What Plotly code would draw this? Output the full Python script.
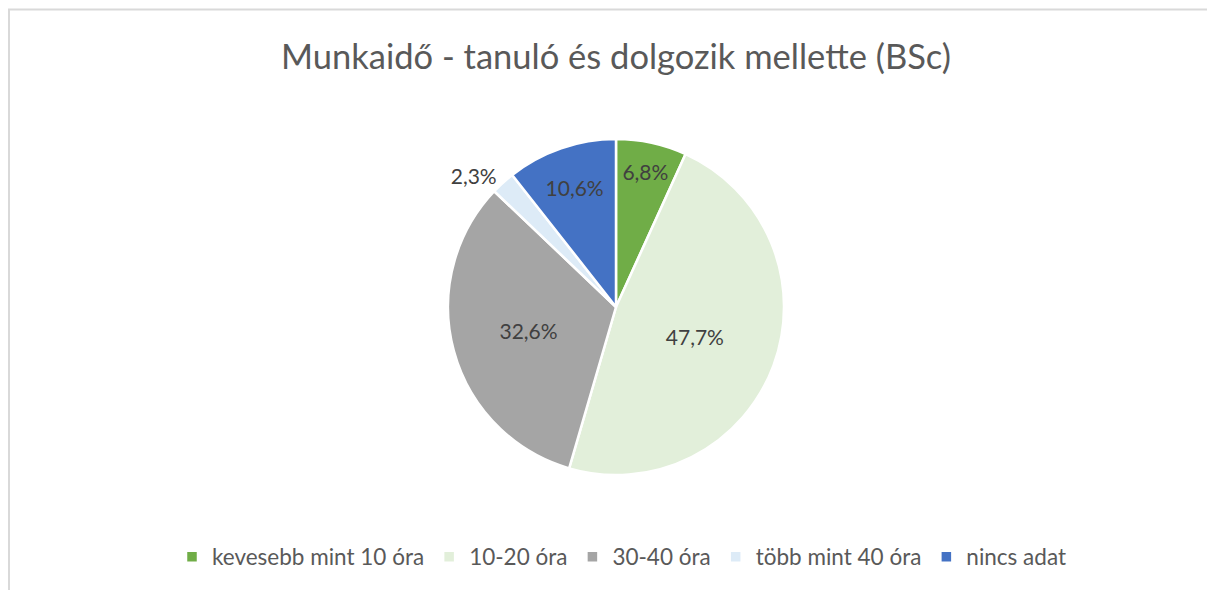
import plotly.graph_objects as go

categories = ["kevesebb mint 10 óra", "10-20 óra", "30-40 óra", "több mint 40 óra", "nincs adat"]
values = [6.8, 47.7, 32.6, 2.3, 10.6]
colors = ["#70AD47", "#E2EFDA", "#A5A5A5", "#DDEBF7", "#4472C4"]
labels_txt = [f"{v:.1f}".replace(".", ",") + "%" for v in values]

W, H = 1215, 590
OFF = 8  # page body margin
cx, cy, r = 616 - OFF, 307 - OFF, 168
FONT = "Lato, Liberation Sans, sans-serif"

fig = go.Figure(go.Pie(
    labels=categories,
    values=values,
    text=labels_txt,
    texttemplate="%{text}",
    textposition=["inside", "inside", "inside", "outside", "inside"],
    insidetextorientation="horizontal",
    sort=False,
    direction="clockwise",
    rotation=0,
    marker=dict(colors=colors, line=dict(color="#FFFFFF", width=2.5)),
    textfont=dict(family=FONT, size=21, color="#404040"),
    outsidetextfont=dict(family=FONT, size=21, color="#404040"),
    domain=dict(x=[(cx - r) / W, (cx + r) / W], y=[1 - (cy + r) / H, 1 - (cy - r) / H]),
    hoverinfo="label+percent",
))

fig.update_layout(
    width=W, height=H,
    margin=dict(l=0, r=0, t=0, b=0),
    paper_bgcolor="#FFFFFF",
    plot_bgcolor="#FFFFFF",
    title=dict(
        text="Munkaidő - tanuló és dolgozik mellette (BSc)",
        x=(616 - OFF) / W, xanchor="center",
        y=1 - (57 - OFF) / H, yanchor="middle",
        font=dict(family=FONT, size=34.5, color="#595959"),
    ),
    legend=dict(
        orientation="h",
        x=(622 - OFF) / W, xanchor="center",
        y=1 - (557 - OFF) / H, yanchor="middle",
        font=dict(family=FONT, size=22.5, color="#595959"),
        itemwidth=30,
        traceorder="normal",
    ),
    uniformtext=dict(minsize=21, mode="show"),
    shapes=[dict(
        type="rect", xref="paper", yref="paper",
        x0=1 / W, x1=1.02, y0=-0.05, y1=1 - 1.5 / H,
        line=dict(color="#D9D9D9", width=2), fillcolor="rgba(0,0,0,0)", layer="below",
    )],
)

fig.write_html("out.html")
